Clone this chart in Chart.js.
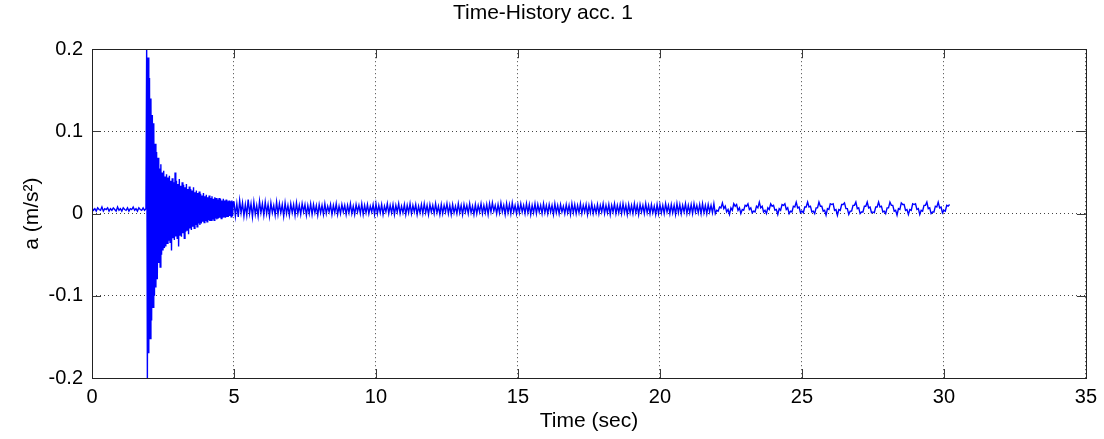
<!DOCTYPE html>
<html>
<head>
<meta charset="utf-8">
<script src="https://cdn.jsdelivr.net/npm/chart.js@4/dist/chart.umd.min.js"></script>
<style>
  html, body { margin: 0; padding: 0; background: #fff; }
</style>
</head>
<body>
<canvas id="accChart" width="1104" height="439"></canvas>
<script>
// record is stored in three pieces, each with its own start time and sample step (sec)
const preStart = 0, preStep = 0.05;
const preAcc = [
  0.007, 0.004, 0.006, 0.003, 0.007, 0.005, 0.004, 0.008, 0.003, 0.006,
  0.005, 0.007, 0.003, 0.006, 0.004, 0.007, 0.005, 0.003, 0.008, 0.004,
  0.006, 0.003, 0.007, 0.005, 0.004, 0.007, 0.003, 0.006, 0.005, 0.008,
  0.004, 0.006, 0.003, 0.007, 0.005, 0.004, 0.007, 0.004, 0.006
];

const burstStart = 1.925, burstStep = 0.025;
const burstAcc = [
  0.205, -0.205, 0.19, -0.17, 0.165, -0.152, 0.14, -0.13, 0.12, -0.114,
  0.11, -0.1, 0.085, -0.09, 0.075, -0.08, 0.068, -0.06, 0.055, -0.065,
  0.06, -0.05, 0.05, -0.045, 0.052, -0.042, 0.045, -0.04, 0.048, -0.036,
  0.044, -0.033, 0.046, -0.035, 0.04, -0.045, 0.043, -0.03, 0.038, -0.032,
  0.05, -0.028, 0.04, -0.03, 0.036, -0.04, 0.042, -0.026, 0.034, -0.028,
  0.038, -0.024, 0.035, -0.03, 0.032, -0.022, 0.036, -0.02, 0.03, -0.025,
  0.033, -0.018, 0.03, -0.02, 0.028, -0.016, 0.032, -0.018, 0.026, -0.014,
  0.028, -0.016, 0.025, -0.012, 0.027, -0.014, 0.024, -0.012, 0.022, -0.01,
  0.025, -0.011, 0.021, -0.009, 0.023, -0.01, 0.02, -0.008, 0.022, -0.009,
  0.019, -0.008, 0.021, -0.007, 0.018, -0.008, 0.02, -0.006, 0.019, -0.007,
  0.017, -0.006, 0.019, -0.005, 0.018, -0.006, 0.016, -0.005, 0.018, -0.004,
  0.016, -0.005, 0.017, -0.004, 0.015, -0.004, 0.016, -0.003, 0.015, -0.004,
  0.016, -0.003, 0.014
];

// one row per second, 5.0 s .. 30.2 s
const tailStart = 5.0, tailStep = 0.05;
const tailAcc = [
  0.015, -0.003, 0.012, -0.004, 0.016, 0.001, 0.013, -0.003, 0.011, -0.002, 0.017, 0.000, 0.012, -0.004, 0.014, -0.001, 0.010, -0.003, 0.015, 0.001,
  0.012, -0.002, 0.014, 0.000, 0.011, -0.003, 0.013, 0.001, 0.010, -0.002, 0.014, -0.001, 0.012, 0.001, 0.011, -0.003, 0.013, 0.000, 0.010, -0.002,
  0.012, 0.001, 0.011, -0.002, 0.013, 0.000, 0.010, -0.001, 0.012, 0.002, 0.011, -0.002, 0.010, 0.000, 0.012, -0.001, 0.011, 0.001, 0.010, -0.002,
  0.011, 0.001, 0.010, -0.001, 0.012, 0.000, 0.009, 0.002, 0.011, -0.001, 0.010, 0.001, 0.012, -0.001, 0.009, 0.000, 0.011, 0.002, 0.010, -0.001,
  0.010, 0.001, 0.012, 0.000, 0.009, -0.001, 0.011, 0.002, 0.010, 0.000, 0.012, -0.001, 0.010, 0.001, 0.011, 0.000, 0.009, 0.002, 0.011, -0.001,
  0.012, 0.000, 0.010, 0.001, 0.011, -0.001, 0.009, 0.002, 0.012, 0.000, 0.010, 0.001, 0.011, -0.001, 0.010, 0.002, 0.012, 0.000, 0.009, 0.001,
  0.011, -0.001, 0.010, 0.001, 0.012, 0.000, 0.010, 0.002, 0.011, -0.001, 0.009, 0.001, 0.011, 0.000, 0.012, 0.001, 0.010, -0.001, 0.011, 0.002,
  0.010, 0.000, 0.012, 0.001, 0.009, -0.001, 0.011, 0.000, 0.010, 0.002, 0.012, 0.000, 0.010, -0.001, 0.011, 0.001, 0.009, 0.000, 0.012, 0.001,
  0.010, -0.001, 0.011, 0.002, 0.010, 0.000, 0.012, 0.001, 0.009, -0.001, 0.011, 0.000, 0.010, 0.002, 0.012, 0.000, 0.010, 0.001, 0.011, -0.001,
  0.012, 0.002, 0.013, 0.003, 0.010, 0.000, 0.011, 0.001, 0.013, 0.002, 0.010, -0.001, 0.012, 0.001, 0.011, 0.000, 0.013, 0.002, 0.010, 0.000,
  0.011, 0.001, 0.012, 0.002, 0.010, 0.000, 0.012, 0.001, 0.011, -0.001, 0.010, 0.001, 0.012, 0.000, 0.011, 0.002, 0.010, 0.000, 0.012, 0.001,
  0.010, 0.000, 0.011, 0.002, 0.010, -0.001, 0.012, 0.001, 0.010, 0.000, 0.011, 0.002, 0.009, 0.000, 0.011, 0.001, 0.010, -0.001, 0.012, 0.001,
  0.011, 0.000, 0.010, 0.001, 0.012, 0.000, 0.010, 0.002, 0.011, -0.001, 0.010, 0.001, 0.012, 0.000, 0.009, 0.001, 0.011, 0.000, 0.010, 0.002,
  0.012, 0.000, 0.010, 0.001, 0.011, -0.001, 0.010, 0.002, 0.012, 0.000, 0.010, 0.001, 0.011, 0.000, 0.012, 0.001, 0.010, -0.001, 0.011, 0.001,
  0.010, 0.000, 0.012, 0.001, 0.010, -0.001, 0.011, 0.002, 0.010, 0.000, 0.012, 0.001, 0.010, 0.000, 0.011, 0.001, 0.009, -0.001, 0.011, 0.000,
  0.011, 0.001, 0.010, 0.000, 0.012, 0.002, 0.010, 0.000, 0.011, 0.001, 0.010, -0.001, 0.012, 0.001, 0.011, 0.000, 0.010, 0.002, 0.012, 0.000,
  0.010, 0.001, 0.011, 0.000, 0.012, 0.002, 0.010, 0.001, 0.011, 0.000, 0.012, 0.001, 0.010, 0.000, 0.011, 0.002, 0.010, 0.001, 0.012, 0.000,
  0.004, 0.003, 0.008, 0.007, 0.013, 0.006, 0.009, 0.002, 0.005, -0.001, 0.007, 0.004, 0.012, 0.009, 0.011, 0.004, 0.007, 0.000, 0.005, 0.004,
  0.010, 0.009, 0.012, 0.005, 0.007, 0.001, 0.003, 0.002, 0.009, 0.007, 0.014, 0.007, 0.009, 0.002, 0.004, 0.000, 0.007, 0.005, 0.012, 0.009,
  0.010, 0.004, 0.005, -0.001, 0.006, 0.004, 0.011, 0.010, 0.012, 0.005, 0.007, 0.000, 0.003, 0.002, 0.009, 0.008, 0.014, 0.007, 0.008, 0.001,
  0.003, 0.001, 0.008, 0.008, 0.014, 0.008, 0.009, 0.002, 0.003, 0.000, 0.007, 0.007, 0.014, 0.009, 0.009, 0.003, 0.004, -0.002, 0.006, 0.005,
  0.012, 0.011, 0.012, 0.004, 0.005, -0.002, 0.005, 0.004, 0.011, 0.011, 0.013, 0.006, 0.006, -0.001, 0.003, 0.003, 0.010, 0.010, 0.014, 0.006,
  0.007, 0.000, 0.002, 0.002, 0.009, 0.009, 0.014, 0.007, 0.008, 0.001, 0.002, 0.001, 0.008, 0.008, 0.014, 0.008, 0.009, 0.002, 0.003, 0.000,
  0.007, 0.007, 0.014, 0.010, 0.010, 0.003, 0.004, -0.002, 0.006, 0.005, 0.013, 0.011, 0.011, 0.004, 0.005, -0.001, 0.005, 0.004, 0.012, 0.011,
  0.012, 0.005, 0.006, -0.001, 0.004, 0.003, 0.010, 0.010, 0.014, 0.006, 0.007, 0.000, 0.002, 0.002, 0.009, 0.008, 0.014, 0.007, 0.008, 0.001,
  0.004, 0.003, 0.010, 0.009, 0.011
];

const xTicks = [0, 5, 10, 15, 20, 25, 30, 35];
const yTicks = [-0.2, -0.1, 0, 0.1, 0.2];
const yTickLabels = ["-0.2", "-0.1", "0", "0.1", "0.2"];

function samples(t0, step, values) {
    return values.map((v, i) => ({ x: +(t0 + i * step).toFixed(3), y: v }));
}

const points = [
    ...samples(preStart, preStep, preAcc),
    ...samples(burstStart, burstStep, burstAcc),
    ...samples(tailStart, tailStep, tailAcc)
];

const FONT = "'Liberation Sans', Arial, sans-serif";

// matlab style box with inward ticks on all four sides
const boxPlugin = {
    id: "box",
    afterDatasetsDraw(chart) {
        const { ctx, chartArea: a, scales } = chart;
        const len = 9;
        ctx.save();
        ctx.lineWidth = 1;
        ctx.strokeStyle = "#3a3a3a";
        ctx.beginPath();
        xTicks.forEach(v => {
            const px = Math.round(scales.x.getPixelForValue(v)) + 0.5;
            ctx.moveTo(px, a.bottom); ctx.lineTo(px, a.bottom - len);
            ctx.moveTo(px, a.top); ctx.lineTo(px, a.top + len);
        });
        yTicks.forEach(v => {
            const py = Math.round(scales.y.getPixelForValue(v)) + 0.5;
            ctx.moveTo(a.left, py); ctx.lineTo(a.left + len, py);
            ctx.moveTo(a.right, py); ctx.lineTo(a.right - len, py);
        });
        ctx.stroke();
        ctx.strokeStyle = "#222";
        ctx.strokeRect(Math.round(a.left) + 0.5, Math.round(a.top) + 0.5,
                       Math.round(a.right - a.left), Math.round(a.bottom - a.top));
        ctx.restore();
    }
};

new Chart(document.getElementById("accChart"), {
    type: "line",
    data: {
        datasets: [{
            data: points,
            borderColor: "#0000ff",
            borderWidth: 1.4,
            pointRadius: 0,
            tension: 0,
            fill: false
        }]
    },
    options: {
        responsive: false,
        animation: false,
        parsing: false,
        layout: { padding: { left: 0, right: 18, top: 0, bottom: 0 } },
        plugins: {
            legend: { display: false },
            tooltip: { enabled: false },
            title: {
                display: true,
                text: "Time-History acc. 1",
                color: "#000",
                font: { family: FONT, size: 21, weight: "normal" },
                padding: { top: 1, bottom: 23 }
            }
        },
        scales: {
            x: {
                type: "linear",
                min: 0,
                max: 35,
                afterBuildTicks: s => { s.ticks = xTicks.map(v => ({ value: v })); },
                afterFit: s => { s.height = 61; },
                border: { display: false, dash: [1, 3] },
                grid: { color: "#444", drawTicks: false },
                ticks: {
                    color: "#000",
                    padding: 7,
                    maxRotation: 0,
                    font: { family: FONT, size: 20 }
                },
                title: {
                    display: true,
                    text: "Time (sec)",
                    color: "#000",
                    font: { family: FONT, size: 21 },
                    padding: { top: 0, bottom: 5 }
                }
            },
            y: {
                type: "linear",
                min: -0.2,
                max: 0.2,
                afterBuildTicks: s => { s.ticks = yTicks.map(v => ({ value: v })); },
                afterFit: s => { s.width = 92; },
                border: { display: false, dash: [1, 3] },
                grid: { color: "#444", drawTicks: false },
                ticks: {
                    color: "#000",
                    padding: 9,
                    font: { family: FONT, size: 20 },
                    callback: v => yTickLabels[yTicks.findIndex(t => Math.abs(t - v) < 1e-9)]
                },
                title: {
                    display: true,
                    text: "a (m/s²)",
                    color: "#000",
                    font: { family: FONT, size: 21 },
                    padding: { top: 20, bottom: 0 }
                }
            }
        }
    },
    plugins: [boxPlugin]
});
</script>
</body>
</html>
